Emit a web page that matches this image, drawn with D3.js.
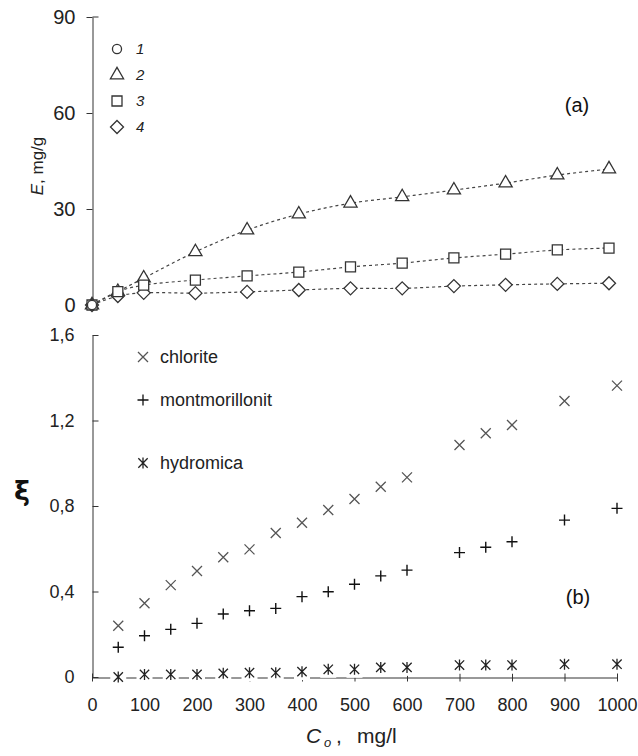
<!DOCTYPE html>
<html>
<head>
<meta charset="utf-8">
<script src="https://cdn.jsdelivr.net/npm/d3@7"></script>
<style>
  body { margin: 0; background: #fff; }
  svg { display: block; font-family: "Liberation Sans", Arial, sans-serif; }
</style>
</head>
<body>
<svg id="chart" width="638" height="756"></svg>
<script>
// panel (a): sorption E, mg/g
const concA = [0, 50, 100, 200, 300, 400, 500, 600, 700, 800, 900, 1000];
const series1X = [0];
const series1 = [0];
const series2 = [0, 4.2, 8.4, 16.6, 23.4, 28.4, 31.8, 33.8, 35.9, 38.1, 40.6, 42.5];
const series3 = [0, 4.2, 6.2, 7.8, 9.1, 10.3, 11.9, 13.1, 14.7, 15.9, 17.2, 17.8];
const series4 = [0, 2.8, 3.8, 3.7, 4.1, 4.7, 5.2, 5.2, 5.9, 6.3, 6.6, 6.8];
const ticksA = [0, 30, 60, 90];

// panel (b): xi
const concB = [50, 100, 150, 200, 250, 300, 350, 400, 450, 500, 550, 600, 700, 750, 800, 900, 1000];
const chlorite = [0.24, 0.345, 0.43, 0.496, 0.56, 0.597, 0.674, 0.722, 0.781, 0.833, 0.89, 0.934, 1.085, 1.14, 1.179, 1.291, 1.363];
const montmorillonit = [0.139, 0.193, 0.223, 0.251, 0.295, 0.31, 0.321, 0.376, 0.399, 0.434, 0.473, 0.5, 0.582, 0.607, 0.633, 0.734, 0.789];
const hydromica = [0, 0.012, 0.012, 0.012, 0.017, 0.02, 0.02, 0.025, 0.036, 0.036, 0.045, 0.045, 0.056, 0.056, 0.056, 0.06, 0.06];
const ticksB = [0, 0.4, 0.8, 1.2, 1.6];
const ticksX = [0, 100, 200, 300, 400, 500, 600, 700, 800, 900, 1000];

const svg = d3.select("#chart");
const ink = "#333";

// ---------- panel (a)
let xA = d3.scaleLinear().domain([0, 1000]).range([92, 609]);
let yA = d3.scaleLinear().domain([0, 90]).range([305, 17]);

let axA = svg.append("g")
  .attr("transform", "translate(92.5,0)")
  .call(d3.axisLeft(yA).tickValues(ticksA).tickSizeInner(6).tickSizeOuter(0).tickPadding(11));
axA.select(".domain").attr("stroke", ink);
axA.selectAll(".tick line").attr("stroke", ink);
axA.selectAll(".tick text").attr("fill", "#222").style("font-size", "20px");
// small stub at top of axis
axA.append("line").attr("x1", 0).attr("x2", 6).attr("y1", yA(90)).attr("y2", yA(90)).attr("stroke", ink);

let lineA = d3.line()
  .x((d, i) => xA(concA[i]))
  .y(d => yA(d))
  .curve(d3.curveCatmullRom);

[series2, series3, series4].forEach(s => {
  svg.append("path")
    .attr("d", lineA(s))
    .attr("fill", "none")
    .attr("stroke", "#444")
    .attr("stroke-width", 1.2)
    .attr("stroke-dasharray", "3,3");
});

// square turned 45 degrees, as excel draws its diamond
const diamondPath = s => `M0,${-s}L${s},0L0,${s}L${-s},0Z`;

const shapes = {
  circle: () => d3.symbol().type(d3.symbolCircle).size(65)(),
  triangle: () => d3.symbol().type(d3.symbolTriangle).size(75)(),
  square: () => d3.symbol().type(d3.symbolSquare).size(100)(),
  diamond: () => diamondPath(6.5)
};

function markers(xs, ys, shape, xScale, yScale) {
  svg.append("g").selectAll("path")
    .data(ys)
    .join("path")
    .attr("d", shapes[shape]())
    .attr("transform", (d, i) => `translate(${xScale(xs[i])},${yScale(d)})`)
    .attr("fill", "#fff")
    .attr("stroke", ink)
    .attr("stroke-width", 1.3);
}
markers(concA, series2, "triangle", xA, yA);
markers(concA, series4, "diamond", xA, yA);
markers(concA, series3, "square", xA, yA);
markers(series1X, series1, "circle", xA, yA);

// legend (a)
const legA = [["circle", "1"], ["triangle", "2"], ["square", "3"], ["diamond", "4"]];
legA.forEach((d, i) => {
  let y = 49 + i * 26;
  svg.append("path").attr("d", shapes[d[0]]())
    .attr("transform", `translate(117,${y})`)
    .attr("fill", "#fff").attr("stroke", ink).attr("stroke-width", 1.3);
  svg.append("text").attr("x", 136).attr("y", y + 5)
    .style("font-size", "15px").style("font-style", "italic").attr("fill", "#222")
    .text(d[1]);
});

svg.append("text").attr("x", 577).attr("y", 112).attr("text-anchor", "middle")
  .style("font-size", "20px").attr("fill", "#111").text("(a)");

svg.append("text")
  .attr("transform", "translate(43,166) rotate(-90)")
  .attr("text-anchor", "middle")
  .style("font-size", "17px").attr("fill", "#222")
  .call(t => {
    t.append("tspan").style("font-style", "italic").text("E");
    t.append("tspan").text(", mg/g");
  });

// ---------- panel (b)
let xB = d3.scaleLinear().domain([0, 1000]).range([92, 617]);
let yB = d3.scaleLinear().domain([0, 1.6]).range([677, 335]);

let axY = svg.append("g")
  .attr("transform", "translate(92.5,0)")
  .call(d3.axisLeft(yB).tickValues(ticksB).tickSizeInner(-6).tickSizeOuter(0).tickPadding(18)
    .tickFormat(d => d === 0 ? "0" : d3.format(".1f")(d).replace(".", ",")));
axY.select(".domain").attr("stroke", ink);
axY.selectAll(".tick line").attr("stroke", ink);
axY.selectAll(".tick text").attr("fill", "#222").style("font-size", "18px");

let axX = svg.append("g")
  .attr("transform", "translate(0,677.5)")
  .call(d3.axisBottom(xB).tickValues(ticksX).tickSizeInner(4).tickSizeOuter(0).tickPadding(17)
    .tickFormat(d3.format("d")));
axX.select(".domain").attr("stroke", ink);
axX.selectAll(".tick line").attr("stroke", ink).attr("y1", -4);
axX.selectAll(".tick text").attr("fill", "#222").style("font-size", "18px");

function crossPath(s) {
  return `M${-s},0H${s}M0,${-s}V${s}`;
}
function xPath(s) {
  return `M${-s},${-s}L${s},${s}M${-s},${s}L${s},${-s}`;
}
function starPath(s) {
  return xPath(s * 0.85) + `M0,${-s}V${s}`;
}

// chlorite
svg.append("g").selectAll("path").data(chlorite).join("path")
  .attr("d", xPath(5))
  .attr("transform", (d, i) => `translate(${xB(concB[i])},${yB(d)})`)
  .attr("stroke", "#555").attr("stroke-width", 1.3).attr("fill", "none");

// montmorillonit
svg.append("g").selectAll("path").data(montmorillonit).join("path")
  .attr("d", crossPath(5.5))
  .attr("transform", (d, i) => `translate(${xB(concB[i])},${yB(d)})`)
  .attr("stroke", "#111").attr("stroke-width", 1.4).attr("fill", "none");

// hydromica, white box behind each marker hides the axis as in the original
let hyd = svg.append("g").selectAll("g").data(hydromica).join("g")
  .attr("transform", (d, i) => `translate(${xB(concB[i])},${yB(d)})`);
hyd.append("rect").attr("x", -8).attr("y", -8).attr("width", 16).attr("height", 16.5).attr("fill", "#fff");
hyd.append("path").attr("d", starPath(5.5))
  .attr("stroke", "#222").attr("stroke-width", 1.3).attr("fill", "none");

// legend (b)
const legB = [
  ["chlorite", xPath(5), "#555", 357],
  ["montmorillonit", crossPath(5.5), "#111", 400],
  ["hydromica", starPath(5.5), "#222", 463]
];
legB.forEach(d => {
  svg.append("path").attr("d", d[1]).attr("transform", `translate(143,${d[3]})`)
    .attr("stroke", d[2]).attr("stroke-width", 1.3).attr("fill", "none");
  svg.append("text").attr("x", 160).attr("y", d[3] + 6)
    .style("font-size", "18px").attr("fill", "#222").text(d[0]);
});

svg.append("text").attr("x", 578).attr("y", 604).attr("text-anchor", "middle")
  .style("font-size", "20px").attr("fill", "#111").text("(b)");

svg.append("text").attr("x", 22).attr("y", 500).attr("text-anchor", "middle")
  .style("font-family", "'DejaVu Sans', sans-serif").style("font-weight", "bold")
  .style("font-size", "27px").attr("fill", "#111").text("ξ");

// x axis title
let xt = svg.append("g").attr("fill", "#222");
xt.append("text").attr("x", 306).attr("y", 743).style("font-size", "21px").style("font-style", "italic").text("C");
xt.append("text").attr("x", 324).attr("y", 747).style("font-size", "13px").style("font-style", "italic").text("o");
xt.append("text").attr("x", 336).attr("y", 743).style("font-size", "21px").text(",");
xt.append("text").attr("x", 357).attr("y", 743).style("font-size", "21px").text("mg/l");
</script>
</body>
</html>
